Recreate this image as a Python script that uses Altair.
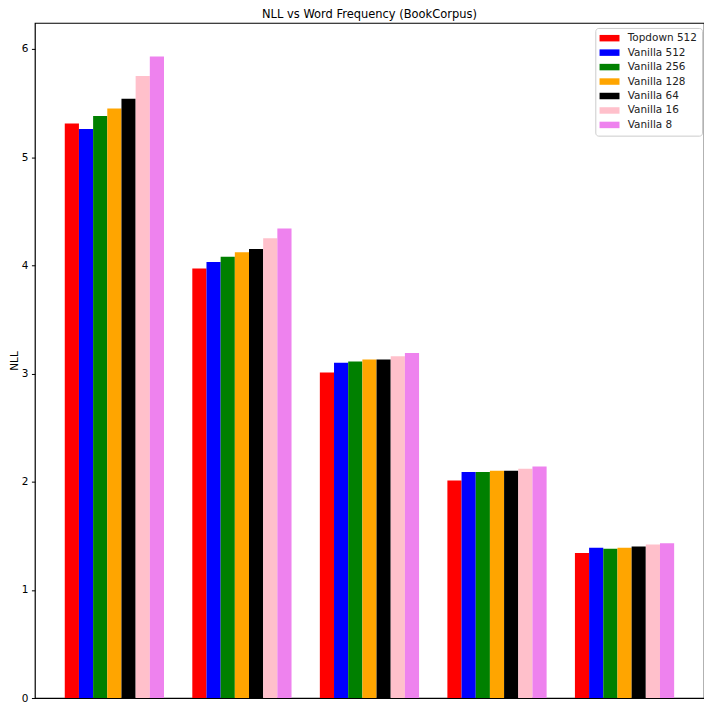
import altair as alt
import pandas as pd

groups = ["Bin 1", "Bin 2", "Bin 3", "Bin 4", "Bin 5"]
series = ["Topdown 512", "Vanilla 512", "Vanilla 256", "Vanilla 128", "Vanilla 64", "Vanilla 16", "Vanilla 8"]
colors = ["red", "blue", "green", "orange", "black", "pink", "violet"]

topdown_512 = [5.31, 3.97, 3.01, 2.01, 1.34]
vanilla_512 = [5.26, 4.03, 3.10, 2.09, 1.39]
vanilla_256 = [5.38, 4.08, 3.11, 2.09, 1.38]
vanilla_128 = [5.45, 4.12, 3.13, 2.10, 1.39]
vanilla_64 = [5.54, 4.15, 3.13, 2.10, 1.40]
vanilla_16 = [5.75, 4.25, 3.16, 2.12, 1.42]
vanilla_8 = [5.93, 4.34, 3.19, 2.14, 1.43]

values = [topdown_512, vanilla_512, vanilla_256, vanilla_128, vanilla_64, vanilla_16, vanilla_8]

rows = []
for s, vals in zip(series, values):
    for g, v in zip(groups, vals):
        rows.append({"group": g, "model": s, "NLL": v})
df = pd.DataFrame(rows)

font = "DejaVu Sans"

chart = alt.Chart(df).mark_bar().encode(
    x=alt.X("group:N", sort=groups, axis=None,
            scale=alt.Scale(paddingInner=0.222, paddingOuter=0.234)),
    xOffset=alt.XOffset("model:N", sort=series,
                        scale=alt.Scale(paddingInner=0, paddingOuter=0)),
    y=alt.Y("NLL:Q", title="NLL",
            scale=alt.Scale(domain=[0, 6.24], nice=False, zero=True),
            axis=alt.Axis(values=[0, 1, 2, 3, 4, 5, 6], grid=False, tickSize=3.5,
                          tickColor="black", domain=False, labelPadding=3.5,
                          labelFont=font, labelFontSize=10.5, labelColor="black",
                          titleFont=font, titleFontSize=10.5, titleFontWeight="normal",
                          titleColor="black", titlePadding=2)),
    color=alt.Color("model:N", sort=series,
                    scale=alt.Scale(domain=series, range=colors),
                    legend=alt.Legend(title=None, orient="none", legendX=562, legendY=5,
                                      symbolType="M-2,-0.65H2V0.65H-2Z", symbolSize=100,
                                      symbolStrokeWidth=0, symbolOffset=4,
                                      labelOffset=13, labelFont=font, labelFontSize=10.5,
                                      labelColor="#222222", rowPadding=3.5, padding=5,
                                      strokeColor="#cccccc", fillColor="white",
                                      cornerRadius=3)),
).properties(
    width=671,
    height=677,
    title=alt.TitleParams("NLL vs Word Frequency (BookCorpus)", font=font, fontSize=11.5,
                          fontWeight="normal", color="black", offset=2),
    autosize=alt.AutoSizeParams(type="none"),
    padding={"left": 27, "top": 14, "right": 0, "bottom": 12},
).configure_view(
    stroke="black", strokeWidth=1.2
)

chart.save("out.html", embed_options={"renderer": "svg", "actions": False})
